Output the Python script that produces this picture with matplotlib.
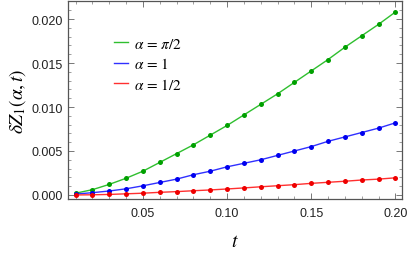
import numpy as np
import matplotlib
matplotlib.use("Agg")
import matplotlib.pyplot as plt
from matplotlib.ticker import MultipleLocator

plt.rcParams['font.family'] = ['Liberation Sans', 'DejaVu Sans']
plt.rcParams['mathtext.fontset'] = 'stix'

# データ
t = [0.01, 0.02, 0.03, 0.04, 0.05, 0.06, 0.07, 0.08, 0.09, 0.10,
     0.11, 0.12, 0.13, 0.14, 0.15, 0.16, 0.17, 0.18, 0.19, 0.20]
z_pi2 = [0.0002, 0.0006, 0.0012, 0.0019, 0.0027, 0.0037, 0.0047, 0.0057, 0.0068, 0.0079,
         0.0091, 0.0103, 0.0115, 0.0128, 0.0141, 0.0154, 0.0168, 0.0181, 0.0194, 0.0208]
z_1 = [0.0001, 0.00026, 0.00045, 0.0007, 0.00104, 0.00142, 0.0018, 0.0023, 0.0027, 0.0032,
       0.0036, 0.0040, 0.0045, 0.0050, 0.0055, 0.0061, 0.0066, 0.0071, 0.0076, 0.0082]
z_half = [0.0, 0.00002, 0.00006, 0.00013, 0.0002, 0.0003, 0.00038, 0.00048, 0.00057, 0.00068,
          0.0008, 0.00093, 0.00105, 0.00117, 0.00132, 0.00144, 0.00156, 0.0017, 0.0018, 0.00195]
labels = [r'$\alpha\,=\,\pi/2$', r'$\alpha\,=\,1$', r'$\alpha\,=\,1/2$']

fig = plt.figure(figsize=(4.07, 2.55), dpi=100)
ax = fig.add_axes([0.167, 0.216, 0.821, 0.776])

series = [(z_pi2, '#2fbf2f', '#00a000'),
          (z_1, '#3030ff', '#0000ee'),
          (z_half, '#ff3030', '#ee0000')]
handles = []
for (vals, lc, mc), lab in zip(series, labels):
    ax.plot(t, vals, color=lc, lw=1.0)
    ax.plot(t, vals, 'o', color=mc, ms=3.6, mew=0)
    h, = ax.plot([], [], color=lc, lw=1.0, label=lab)
    handles.append(h)

ax.set_xlim(0.0055, 0.204)
ax.set_ylim(-0.00045, 0.02205)

ax.xaxis.set_major_locator(MultipleLocator(0.05))
ax.xaxis.set_minor_locator(MultipleLocator(0.01))
ax.yaxis.set_major_locator(MultipleLocator(0.005))
ax.yaxis.set_minor_locator(MultipleLocator(0.001))
ax.xaxis.set_major_formatter(plt.FuncFormatter(lambda v, p: f"{v:.2f}"))
ax.yaxis.set_major_formatter(plt.FuncFormatter(lambda v, p: f"{v:.3f}"))

frame = '#555555'
for s in ax.spines.values():
    s.set_color(frame)
    s.set_linewidth(0.9)
ax.tick_params(which='both', direction='in', top=True, right=True,
               color='#777777', labelsize=9, labelcolor='#222222')
ax.tick_params(which='major', length=4, width=0.7)
ax.tick_params(axis='x', which='major', pad=6)
ax.tick_params(axis='y', which='major', pad=4)
ax.tick_params(which='minor', length=2, width=0.5)

ax.set_xlabel(r'$t$', fontsize=14, labelpad=10)
ax.set_ylabel(r'$\delta Z_1(\alpha,t)$', fontsize=14, labelpad=2)

ax.legend(handles=handles, loc='upper left', bbox_to_anchor=(0.12, 0.85),
          frameon=False, fontsize=11, handlelength=0.9, handletextpad=0.4,
          labelspacing=0.36, borderaxespad=0)

fig.savefig('out.png', dpi=100)
